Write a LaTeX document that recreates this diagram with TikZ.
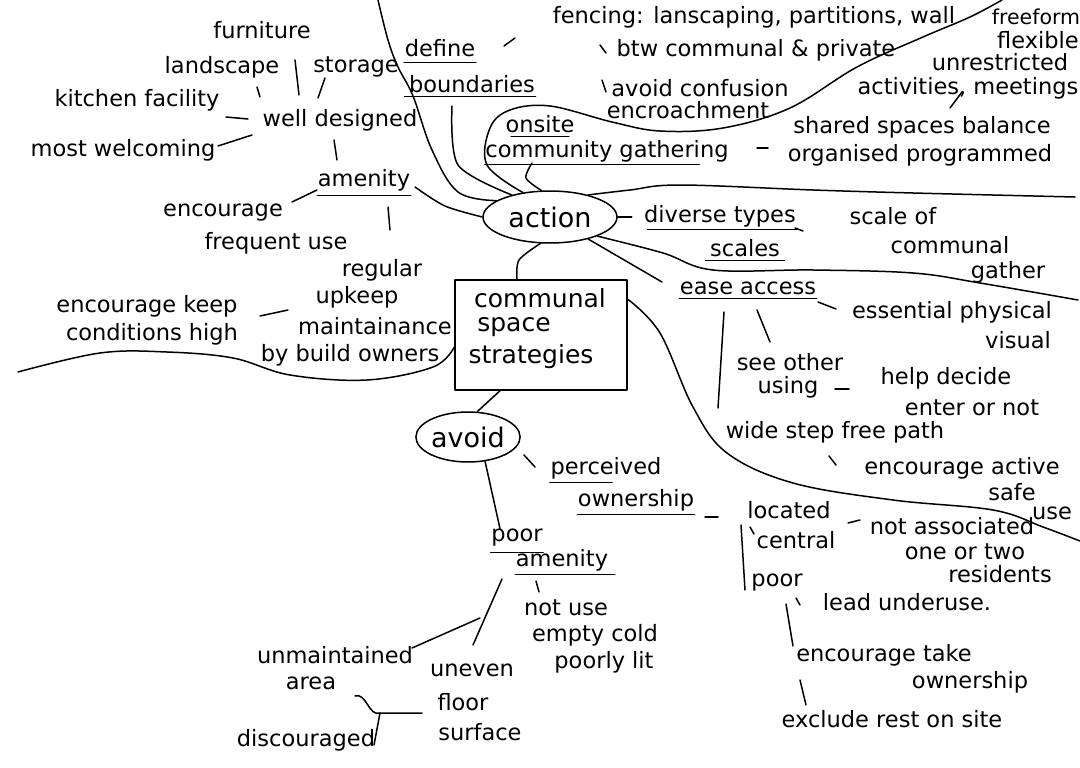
\documentclass[tikz,border=0pt]{standalone}
\usepackage{fontspec}
\setmainfont{DejaVu Sans}
\usetikzlibrary{shapes.geometric}
\begin{document}
\begin{tikzpicture}[x=1pt,y=-1pt,line width=1.5pt,line cap=round,line join=round,
  lbl/.style={font=\fontsize{22.5}{24}\selectfont,inner sep=0pt},
  big/.style={font=\fontsize{25}{27}\selectfont,inner sep=0pt},
  hub/.style={draw,ellipse,inner sep=0pt,font=\fontsize{27}{29}\selectfont},
  ul/.style={line width=1.3pt}]
\useasboundingbox[fill=white] (0,0) rectangle (1080,768);

% ---------- texts, upper left ----------
\node[lbl] (furn) at (262,30) {furniture};
\node[lbl] (land) at (222,67) {landscape};
\node[lbl] (stor) at (356,67) {storage};
\node[lbl] (kitch) at (137,100) {kitchen facility};
\node[lbl] (well) at (340,120) {well designed};
\node[lbl] (most) at (123,150) {most welcoming};
\node[lbl] (amen) at (364,180) {amenity};
\node[lbl] (enc1) at (223,213) {encourage};
\node[lbl] (freq) at (276,243) {frequent use};
\node[lbl] (reg) at (382,270) {regular};
\node[lbl] (upk) at (357,297) {upkeep};
\node[lbl] (maint) at (375,326) {maintainance};
\node[lbl] (bybuild) at (350,355) {by build owners};
\node[lbl] (enck) at (147,306) {encourage keep};
\node[lbl] (cond) at (152,334) {conditions high};

% ---------- texts, top ----------
\node[lbl] (def) at (440,48) {define};
\node[lbl] (bound) at (472,84) {boundaries};
\node[lbl] (fenc) at (754,17) {fencing: lanscaping, partitions, wall};
\node[lbl] (btw) at (756,50) {btw communal \& private};
\node[lbl] (avc) at (700,88) {avoid confusion};
\node[lbl] (encr) at (688,110) {encroachment};
\node[lbl,font=\fontsize{20.5}{22}\selectfont] (free) at (1036,17) {freeform};
\node[lbl] (flex) at (1038,40) {flexible};
\node[lbl] (unres) at (1000,62) {unrestricted};
\node[lbl] (activ) at (968,88) {activities, meetings};
\node[lbl] (onsite) at (540,124) {onsite};
\node[lbl] (comm) at (607,151) {community gathering};
\node[lbl] (shared) at (922,127) {shared spaces balance};
\node[lbl] (organ) at (920,155) {organised programmed};

% ---------- hubs ----------
\node[hub,minimum width=134pt,minimum height=52pt] (action) at (550,217) {action};
\node[draw,minimum width=172pt,minimum height=110pt,inner sep=0pt] (box) at (541,335) {};
\node[big] (cs1) at (540,298) {communal};
\node[big] (cs2) at (514,327) {space};
\node[big] (cs3) at (531,357) {strategies};
\node[hub,minimum width=88pt,minimum height=50pt] (avoid) at (468,437) {avoid};

% ---------- texts, right ----------
\node[lbl] (div) at (720,216) {diverse types};
\node[lbl] (scof) at (893,216) {scale of};
\node[lbl] (scales) at (745,248) {scales};
\node[lbl] (commn) at (950,245) {communal};
\node[lbl] (gather) at (1008,272) {gather};
\node[lbl] (ease) at (748,288) {ease access};
\node[lbl] (ess) at (952,312) {essential physical};
\node[lbl] (vis) at (1018,340) {visual};
\node[lbl] (see) at (790,362) {see other};
\node[lbl] (using) at (788,387) {using};
\node[lbl] (help) at (946,378) {help decide};
\node[lbl] (enter) at (972,408) {enter or not};
\node[lbl] (wide) at (835,432) {wide step free path};
\node[lbl] (encact) at (962,468) {encourage active};
\node[lbl] (safe) at (1012,492) {safe};
\node[lbl] (use) at (1052,513) {use};

% ---------- texts, lower ----------
\node[lbl] (perc) at (606,468) {perceived};
\node[lbl] (own) at (636,500) {ownership};
\node[lbl] (loc) at (789,510) {located};
\node[lbl] (cent) at (796,540) {central};
\node[lbl] (notas) at (952,526) {not associated};
\node[lbl] (oneor) at (965,552) {one or two};
\node[lbl] (resid) at (1000,574) {residents};
\node[lbl] (poorb) at (777,583) {poor};
\node[lbl] (lead) at (907,602) {lead underuse.};
\node[lbl] (enctake) at (884,655) {encourage take};
\node[lbl] (own2) at (970,682) {ownership};
\node[lbl] (excl) at (892,719) {exclude rest on site};
\node[lbl] (poor) at (517,538) {poor};
\node[lbl] (amen2) at (562,560) {amenity};
\node[lbl] (notuse) at (566,608) {not use};
\node[lbl] (empty) at (595,635) {empty cold};
\node[lbl] (poorly) at (604,662) {poorly lit};
\node[lbl] (unm) at (335,655) {unmaintained};
\node[lbl] (area) at (311,683) {area};
\node[lbl] (uneven) at (472,670) {uneven};
\node[lbl] (floor) at (463,702) {floor};
\node[lbl] (surf) at (480,732) {surface};
\node[lbl] (disc) at (306,740) {discouraged};

% ---------- underlines ----------
\draw[ul] ([yshift=-4pt]amen.south west) -- ([yshift=-4pt]amen.south east);
\draw[ul] ([yshift=-5pt]def.south west) -- ([yshift=-5pt]def.south east);
\draw[ul] ([yshift=-3pt,xshift=-4pt]bound.south west) -- ([yshift=-3pt]bound.south east);
\draw[ul] ([yshift=-3pt,xshift=6pt]onsite.south west) -- ([yshift=-3pt,xshift=-6pt]onsite.south east);
\draw[ul] ([yshift=-2pt]comm.south west) -- ([yshift=-2pt,xshift=-30pt]comm.south east);
\draw[ul] ([yshift=-2pt,xshift=4pt]div.south west) -- ([yshift=-2pt]div.south east);
\draw[ul] ([yshift=-3pt,xshift=-4pt]scales.south west) -- ([yshift=-3pt,xshift=4pt]scales.south east);
\draw[ul] ([yshift=-3pt]ease.south west) -- ([yshift=-3pt]ease.south east);
\draw[ul] ([yshift=-3pt]perc.south west) -- ([yshift=-3pt,xshift=-50pt]perc.south east);
\draw[ul] ([yshift=-3pt]own.south west) -- ([yshift=-3pt]own.south east);
\draw[ul] ([yshift=-5pt]poor.south west) -- ([yshift=-5pt]poor.south east);
\draw[ul] ([yshift=-3pt]amen2.south west) -- ([yshift=-3pt,xshift=6pt]amen2.south east);

% ---------- free-end coordinates ----------
\coordinate (a1) at (257,87);   \coordinate (a2) at (260,97);
\coordinate (b1) at (295,60);   \coordinate (b2) at (299,95);
\coordinate (c1) at (325,78);   \coordinate (c2) at (318,98);
\coordinate (d1) at (226,117);  \coordinate (d2) at (248,119);
\coordinate (e1) at (218,146);  \coordinate (e2) at (252,135);
\coordinate (f1) at (334,140);  \coordinate (f2) at (337,160);
\coordinate (g1) at (292,202);  \coordinate (g2) at (317,190);
\coordinate (h1) at (388,207);  \coordinate (h2) at (390,230);
\coordinate (i1) at (260,316);  \coordinate (i2) at (288,310);
\coordinate (j1) at (504,46);   \coordinate (j2) at (515,38);
\coordinate (k1) at (600,45);   \coordinate (k2) at (606,53);
\coordinate (l1) at (602,80);   \coordinate (l2) at (606,92);
\coordinate (m1) at (962,92);   \coordinate (m2) at (950,108);
\coordinate (n1) at (757,148);  \coordinate (n2) at (768,148);
\coordinate (o1) at (795,228);  \coordinate (o2) at (803,231);
\coordinate (p1) at (818,302);  \coordinate (p2) at (836,309);
\coordinate (q1) at (757,310);  \coordinate (q2) at (770,342);
\coordinate (r1) at (724,312);  \coordinate (r2) at (718,408);
\coordinate (s1) at (835,389);  \coordinate (s2) at (849,389);
\coordinate (t1) at (829,456);  \coordinate (t2) at (836,465);
\coordinate (u1) at (524,455);  \coordinate (u2) at (535,467);
\coordinate (v1) at (705,517);  \coordinate (v2) at (718,517);
\coordinate (w1) at (741,525);  \coordinate (w2) at (745,590);
\coordinate (x1) at (750,527);  \coordinate (x2) at (754,534);
\coordinate (y1) at (848,523);  \coordinate (y2) at (860,520);
\coordinate (z1) at (786,604);  \coordinate (z2) at (793,646);
\coordinate (aa1) at (796,598); \coordinate (aa2) at (800,605);
\coordinate (bb1) at (800,680); \coordinate (bb2) at (806,705);
\coordinate (cc1) at (536,581); \coordinate (cc2) at (539,592);
\coordinate (dd1) at (502,579); \coordinate (dd2) at (473,645);
\coordinate (dd3) at (480,618); \coordinate (dd4) at (412,648);
\coordinate (ee1) at (355,696); \coordinate (ee2) at (380,713);
\coordinate (ee3) at (422,713); \coordinate (ee4) at (374,745);

% ---------- short connectors ----------
\foreach \p in {a,b,c,d,e,f,g,h,i,j,k,l,m,n,o,p,q,r,s,t,u,v,w,x,y,z,aa,bb,cc}
  \draw (\p1) -- (\p2);
\draw (dd1) -- (dd2);
\draw (dd3) -- (dd4);
\draw (ee1) to[out=20,in=200] (ee2) -- (ee3);
\draw (ee2) -- (ee4);
\draw (action.east) -- ([xshift=14pt]action.east);

% ---------- hub connectors ----------
\draw plot[smooth,tension=0.6] coordinates {(378,0) (388,40) (398,67) (413,96) (432,150) (458,192) (action.163)};
\draw plot[smooth] coordinates {(452,106) (458,165) (action.150)};
\draw plot[smooth,tension=0.6] coordinates {(action.138) (487,165) (490,128) (510,110) (550,106) (612,122) (660,131) (723,128) (790,108) (857,67) (923,37) (970,17) (1002,0)};
\draw plot[smooth] coordinates {(415,187) (445,206) (action.180)};
\draw plot[smooth] coordinates {(532,163) (526,178) (action.108)};
\draw plot[smooth,tension=0.6] coordinates {(action.30) (630,190) (680,185) (813,190) (913,193) (1075,197)};
\draw plot[smooth,tension=0.6] coordinates {(action.-22) (663,253) (713,270) (813,270) (913,273) (980,283) (1078,300)};
\draw (action.-30) -- (662,282);
\draw plot[smooth] coordinates {(action.-110) (519,260) ([xshift=-24pt]box.north)};
\draw plot[smooth,tension=0.6] coordinates {([yshift=-20pt]box.north east) (660,333) (693,407) (727,453) (793,483) (893,500) (993,510) (1043,527) (1080,541)};
\draw plot[smooth,tension=0.6] coordinates {(18,372) (100,353) (167,352) (233,358) (290,375) (367,380) (433,367) ([yshift=-12pt]box.west)};
\draw ([xshift=-41pt]box.south) -- (avoid.70);
\draw (avoid.-55) -- ([xshift=-17pt]poor.north);
\end{tikzpicture}
\end{document}
